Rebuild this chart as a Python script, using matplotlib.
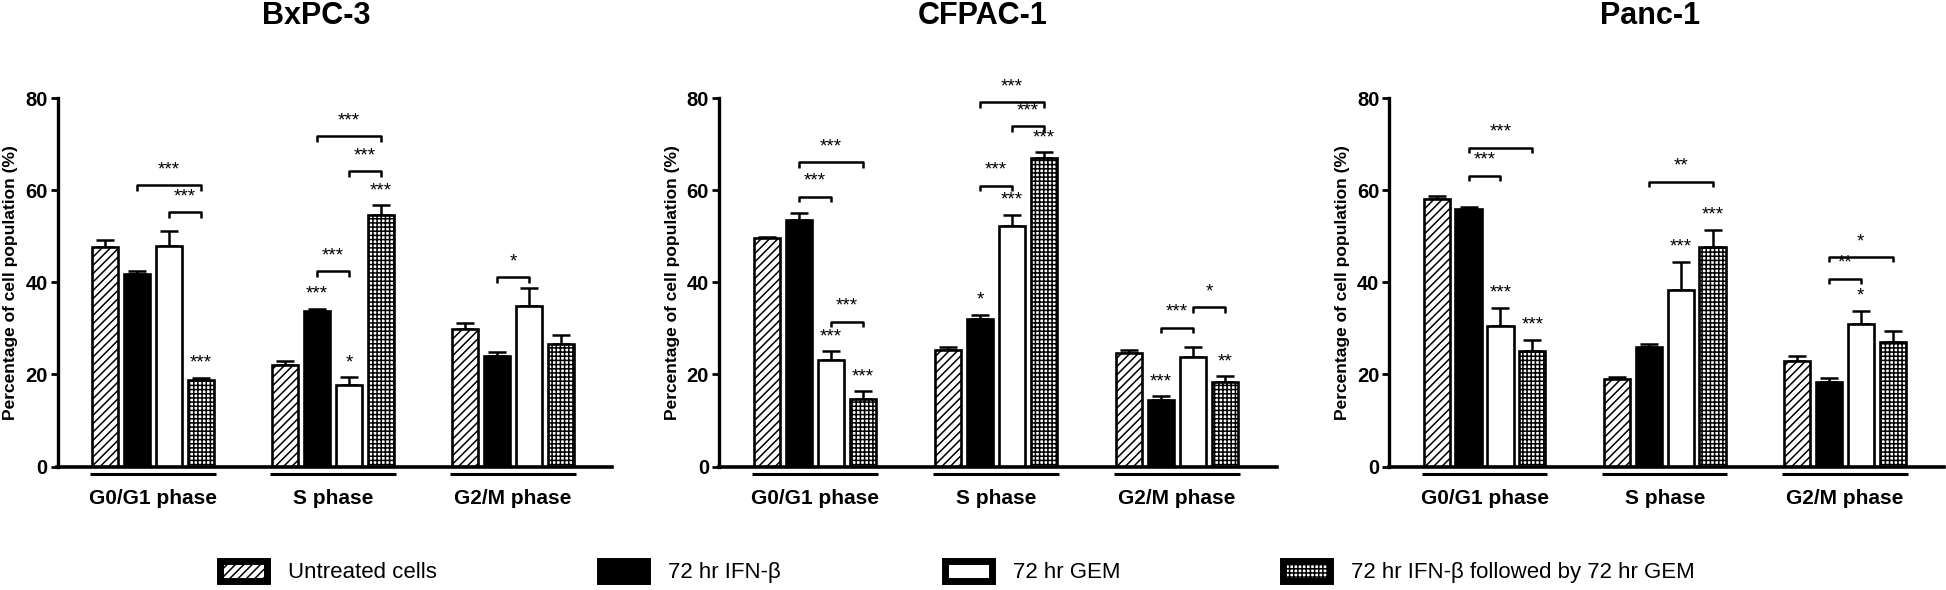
import matplotlib
matplotlib.use("Agg")
import matplotlib.pyplot as plt
from matplotlib.patches import Patch
import numpy as np

plt.rcParams['font.family'] = ['Liberation Sans', 'DejaVu Sans']
plt.rcParams['hatch.linewidth'] = 1.1

# ---------------- data ----------------
phases = ['G0/G1 phase', 'S phase', 'G2/M phase']
treatments = ['Untreated cells', '72 hr IFN-β', '72 hr GEM', '72 hr IFN-β followed by 72 hr GEM']
cell_lines = ['BxPC-3', 'CFPAC-1', 'Panc-1']

# means [phase][treatment]
bxpc3_means = [[47.6, 41.7, 47.8, 18.7], [22.0, 33.7, 17.8, 54.6], [29.8, 23.9, 34.8, 26.7]]
bxpc3_errs = [[1.5, 0.7, 3.3, 0.6], [0.8, 0.6, 1.6, 2.1], [1.3, 0.9, 3.9, 1.8]]
cfpac1_means = [[49.5, 53.6, 23.1, 14.6], [25.3, 32.0, 52.3, 66.9], [24.6, 14.4, 23.7, 18.3]]
cfpac1_errs = [[0.4, 1.5, 1.9, 1.7], [0.6, 0.9, 2.4, 1.3], [0.7, 0.9, 2.2, 1.3]]
panc1_means = [[58.1, 56.0, 30.6, 25.0], [19.1, 25.9, 38.4, 47.7], [22.8, 18.4, 31.0, 27.1]]
panc1_errs = [[0.7, 0.4, 3.9, 2.5], [0.4, 0.8, 6.1, 3.7], [1.1, 0.9, 2.8, 2.4]]

# significance brackets: (phase, bar_i, bar_j, height, label)
bxpc3_brackets = [(0, 1, 3, 61.1, '***'), (0, 2, 3, 55.2, '***'), (1, 1, 2, 42.4, '***'),
                  (1, 2, 3, 64.1, '***'), (1, 1, 3, 71.7, '***'), (2, 1, 2, 41.1, '*')]
cfpac1_brackets = [(0, 1, 3, 66.0, '***'), (0, 1, 2, 58.6, '***'), (0, 2, 3, 31.4, '***'),
                   (1, 1, 3, 79.1, '***'), (1, 2, 3, 73.9, '***'), (1, 1, 2, 61.0, '***'),
                   (2, 1, 2, 30.1, '***'), (2, 2, 3, 34.6, '*')]
panc1_brackets = [(0, 1, 3, 69.2, '***'), (0, 1, 2, 63.1, '***'), (1, 1, 3, 61.8, '**'),
                  (2, 1, 3, 45.5, '*'), (2, 1, 2, 40.8, '**')]

# stars over single bars: (phase, bar, label)
bxpc3_stars = [(0, 3, '***'), (1, 1, '***'), (1, 2, '*'), (1, 3, '***')]
cfpac1_stars = [(0, 2, '***'), (0, 3, '***'), (1, 1, '*'), (1, 2, '***'), (1, 3, '***'),
                (2, 1, '***'), (2, 3, '**')]
panc1_stars = [(0, 2, '***'), (0, 3, '***'), (1, 2, '***'), (1, 3, '***'), (2, 2, '*')]

yticks = [0, 20, 40, 60, 80]

# ---------------- styles ----------------
styles = [
    dict(facecolor='white', hatch='////'),
    dict(facecolor='black', hatch=None),
    dict(facecolor='white', hatch=None),
    dict(facecolor='white', hatch='++++'),
]

W, H = 1946, 590
fig = plt.figure(figsize=(W / 100, H / 100), dpi=100)

ax_px = [(57.5, 554.5), (718.75, 558), (1389, 555)]
title_x = [316, 983, 1650]
legend_x = [220, 600, 945, 1283]
y0_px, y80_px = 466.5, 98

datasets = [
    (bxpc3_means, bxpc3_errs, bxpc3_brackets, bxpc3_stars),
    (cfpac1_means, cfpac1_errs, cfpac1_brackets, cfpac1_stars),
    (panc1_means, panc1_errs, panc1_brackets, panc1_stars),
]

pitch = 0.177
bw = 0.145
lw_edge = 1.9
groups = np.arange(len(phases))

def bar_x(g, i):
    return g + (i - 1.5) * pitch

for k, (means, errs, brackets, stars) in enumerate(datasets):
    left, width = ax_px[k]
    ax = fig.add_axes([left / W, (H - y0_px) / H, width / W, (y0_px - y80_px) / H])
    means = np.array(means)
    errs = np.array(errs)
    for i in range(len(treatments)):
        xs = groups + (i - 1.5) * pitch
        ax.bar(xs, means[:, i], width=bw, edgecolor='black', linewidth=lw_edge,
               zorder=2, **styles[i])
        ax.errorbar(xs, means[:, i], yerr=[np.zeros(len(groups)), errs[:, i]], fmt='none',
                    ecolor='black', elinewidth=1.8, capsize=6.5, capthick=1.8, zorder=1)
    # brackets
    for (g, i, j, y, lab) in brackets:
        x1, x2 = bar_x(g, i), bar_x(g, j)
        ax.plot([x1, x1, x2, x2], [y - 1.2, y, y, y - 1.2], color='black', lw=1.8,
                clip_on=False, solid_capstyle='butt', zorder=3)
        ax.text((x1 + x2) / 2, y + 1.5, lab, ha='center', va='bottom', fontsize=13.5,
                clip_on=False)
    for (g, i, lab) in stars:
        x = bar_x(g, i)
        ax.text(x, means[g, i] + errs[g, i] + 1.3, lab, ha='center', va='bottom',
                fontsize=13.5, clip_on=False)
    # group underlines
    for g in groups:
        ax.plot([bar_x(g, 0) - bw / 2 - 0.01, bar_x(g, 3) + bw / 2 + 0.01], [-1.6, -1.6],
                color='black', lw=2.2, clip_on=False, solid_capstyle='butt')

    ax.set_xlim(-0.53, 2.55)
    ax.set_ylim(0, 80)
    ax.set_yticks(yticks)
    ax.set_yticklabels([str(t) for t in yticks], fontsize=14.5, fontweight='bold')
    ax.set_xticks(groups)
    ax.set_xticklabels(phases, fontsize=15, fontweight='bold')
    ax.tick_params(axis='x', length=0, pad=16)
    ax.tick_params(axis='y', length=5, width=2, pad=2)
    for s in ['top', 'right']:
        ax.spines[s].set_visible(False)
    ax.spines['left'].set_linewidth(2.4)
    ax.spines['bottom'].set_linewidth(2.6)
    ax.set_ylabel('Percentage of cell population (%)', fontsize=12.5, fontweight='bold',
                  labelpad=5)
    fig.text(title_x[k] / W, 1 - 16 / H, cell_lines[k], ha='center', va='center',
             fontsize=22, fontweight='bold')

for i in range(4):
    h = Patch(edgecolor='black', linewidth=5, joinstyle='round', **styles[i])
    leg = fig.legend([h], [treatments[i]], loc='center left',
                     bbox_to_anchor=(legend_x[i] / W, 1 - 572 / H),
                     frameon=False, fontsize=16, handlelength=2.1, handleheight=1.0,
                     handletextpad=0.95, borderpad=0, borderaxespad=0)

fig.savefig('out.png', dpi=100)
